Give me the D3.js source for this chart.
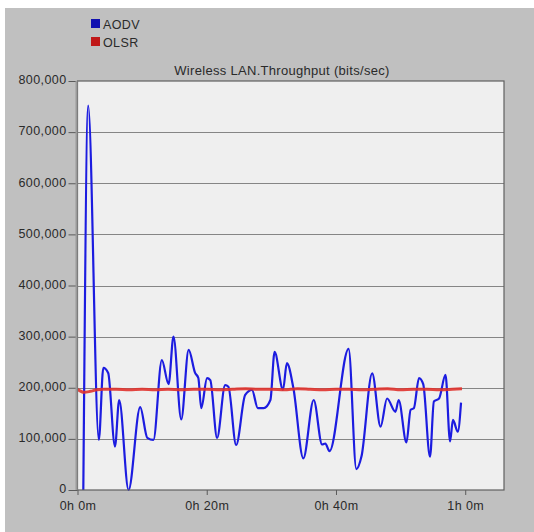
<!DOCTYPE html>
<html>
<head>
<meta charset="utf-8">
<script src="https://cdn.jsdelivr.net/npm/d3@7"></script>
<style>
  html, body { margin: 0; padding: 0; background: #ffffff; }
  svg { display: block; }
  text { font-family: "Liberation Sans", Arial, sans-serif; fill: #2a2a2a; }
</style>
</head>
<body>
<svg id="chart" width="534" height="532"></svg>
<script>
// Simulation time (minutes) and throughput (bits/sec) for each routing protocol
const aodvTime = [0.9, 1.65, 3.3, 4.0, 4.75, 5.8, 6.45, 7.9, 9.7, 10.8, 11.75, 13.05, 14.1, 14.85, 16.05, 17.2, 18.2, 18.7, 19.15, 20.05, 20.55, 21.6, 22.85, 23.35, 24.55, 25.95, 27.0, 27.9, 28.8, 29.85, 30.5, 31.8, 32.4, 33.4, 34.95, 36.55, 37.85, 38.35, 39.0, 41.95, 43.15, 43.95, 45.6, 46.9, 47.9, 49.2, 49.7, 50.9, 51.55, 52.05, 52.85, 53.5, 54.55, 55.15, 55.95, 56.95, 57.65, 58.1, 58.85, 59.35];
const aodvValues = [0, 752000, 98000, 239000, 229000, 85000, 176000, 0, 162000, 102000, 98000, 254000, 207000, 300000, 138000, 274000, 229000, 219000, 160000, 219000, 215000, 102000, 205000, 202000, 88000, 186000, 196000, 160000, 160000, 176000, 270000, 196000, 248000, 200000, 62000, 176000, 89000, 91000, 76000, 276000, 41000, 66000, 228000, 124000, 179000, 153000, 176000, 93000, 157000, 160000, 219000, 207000, 65000, 173000, 179000, 225000, 95000, 137000, 114000, 171000];

const olsrTime = [0, 1, 2, 3, 4, 6, 8, 10, 12, 14, 16, 18, 20, 22, 24, 26, 28, 30, 32, 34, 36, 38, 40, 42, 44, 46, 48, 50, 52, 54, 56, 58, 59.5];
const olsrValues = [197000, 191000, 193000, 196000, 197000, 197000, 196000, 197000, 196000, 197000, 196000, 197000, 197000, 196000, 197000, 198000, 197000, 197000, 196000, 198000, 197000, 196000, 197000, 197000, 196000, 197000, 198000, 196000, 197000, 197000, 196000, 197000, 198000];

const yTicks = [0, 100000, 200000, 300000, 400000, 500000, 600000, 700000, 800000];
const xTicks = [0, 20, 40, 60];
const xTickLabels = ["0h 0m", "0h 20m", "0h 40m", "1h 0m"];

const seriesNames = ["AODV", "OLSR"];
const seriesColors = ["#1c1ce0", "#e0322c"];
const chartTitle = "Wireless LAN.Throughput (bits/sec)";

const labelFont = "12.5px";
const labelSpacing = "0.4px";

const svg = d3.select("#chart");

// Panel background
svg.append("rect").attr("x", 5).attr("y", 8).attr("width", 529).attr("height", 524).attr("fill", "#c0c0c0");

const plot = { left: 77.5, right: 504, top: 81, bottom: 490 };

const x = d3.scaleLinear().domain([0, 66]).range([plot.left, plot.right]);
const y = d3.scaleLinear().domain([0, 800000]).range([plot.bottom, plot.top]);

// Plot area
svg.append("rect")
  .attr("x", plot.left).attr("y", plot.top)
  .attr("width", plot.right - plot.left).attr("height", plot.bottom - plot.top)
  .attr("fill", "#efefef");

// Horizontal gridlines
svg.append("g").selectAll("line")
  .data(yTicks.filter(d => d > 0 && d < 800000))
  .join("line")
  .attr("x1", plot.left).attr("x2", plot.right)
  .attr("y1", d => Math.round(y(d)) + 0.5).attr("y2", d => Math.round(y(d)) + 0.5)
  .attr("stroke", "#858585").attr("stroke-width", 1);

// Y axis
const yAxis = d3.axisLeft(y).tickValues(yTicks).tickSize(9).tickPadding(2)
  .tickFormat(d3.format(","));
const gy = svg.append("g").attr("transform", `translate(${plot.left},0)`).call(yAxis);
gy.select(".domain").remove();
gy.selectAll(".tick line").attr("stroke", "#5a5a5a");
gy.selectAll(".tick text").attr("dy", "0.22em")
  .style("font-size", labelFont).style("letter-spacing", labelSpacing)
  .style("font-family", "Liberation Sans, Arial, sans-serif").attr("fill", "#2a2a2a");

// X axis
const xAxis = d3.axisBottom(x).tickValues(xTicks).tickSize(5).tickPadding(6)
  .tickFormat((d, i) => xTickLabels[i]);
const gx = svg.append("g").attr("transform", `translate(0,${plot.bottom})`).call(xAxis);
gx.select(".domain").remove();
gx.selectAll(".tick line").attr("stroke", "#5a5a5a");
gx.selectAll(".tick text").style("font-size", labelFont).style("letter-spacing", labelSpacing)
  .style("font-family", "Liberation Sans, Arial, sans-serif").attr("fill", "#2a2a2a");

// Series lines
const line = d3.line().x(d => x(d[0])).y(d => y(d[1])).curve(d3.curveMonotoneX);
const olsrData = olsrTime.map((t, i) => [t, olsrValues[i]]);
const aodvData = aodvTime.map((t, i) => [t, aodvValues[i]]);

svg.append("path").datum(aodvData)
  .attr("d", line)
  .attr("fill", "none").attr("stroke", seriesColors[0]).attr("stroke-width", 2.2)
  .attr("stroke-linejoin", "round");

svg.append("path").datum(olsrData)
  .attr("d", line)
  .attr("fill", "none").attr("stroke", seriesColors[1]).attr("stroke-width", 3)
  .attr("stroke-linejoin", "round").attr("opacity", 0.9);

// Plot frame
svg.append("rect")
  .attr("x", plot.left).attr("y", plot.top)
  .attr("width", plot.right - plot.left).attr("height", plot.bottom - plot.top)
  .attr("fill", "none").attr("stroke", "#5f5f5f").attr("stroke-width", 1.2);
svg.append("line")
  .attr("x1", plot.left - 1).attr("x2", plot.left - 1)
  .attr("y1", plot.top).attr("y2", plot.bottom)
  .attr("stroke", "#9a9a9a").attr("stroke-width", 2);

// Title
svg.append("text")
  .attr("x", 282).attr("y", 75)
  .attr("text-anchor", "middle")
  .style("font-size", "13px").style("letter-spacing", "0.3px")
  .text(chartTitle);

// Legend
const legend = svg.append("g").attr("transform", "translate(91,19)");
seriesNames.forEach((name, i) => {
  const g = legend.append("g").attr("transform", `translate(0,${i * 18})`);
  g.append("rect").attr("width", 9).attr("height", 9)
    .attr("fill", i === 0 ? "#1010b0" : "#c01818");
  g.append("text").attr("x", 12).attr("y", 9.5)
    .style("font-size", labelFont).style("letter-spacing", labelSpacing).text(name);
});
</script>
</body>
</html>
